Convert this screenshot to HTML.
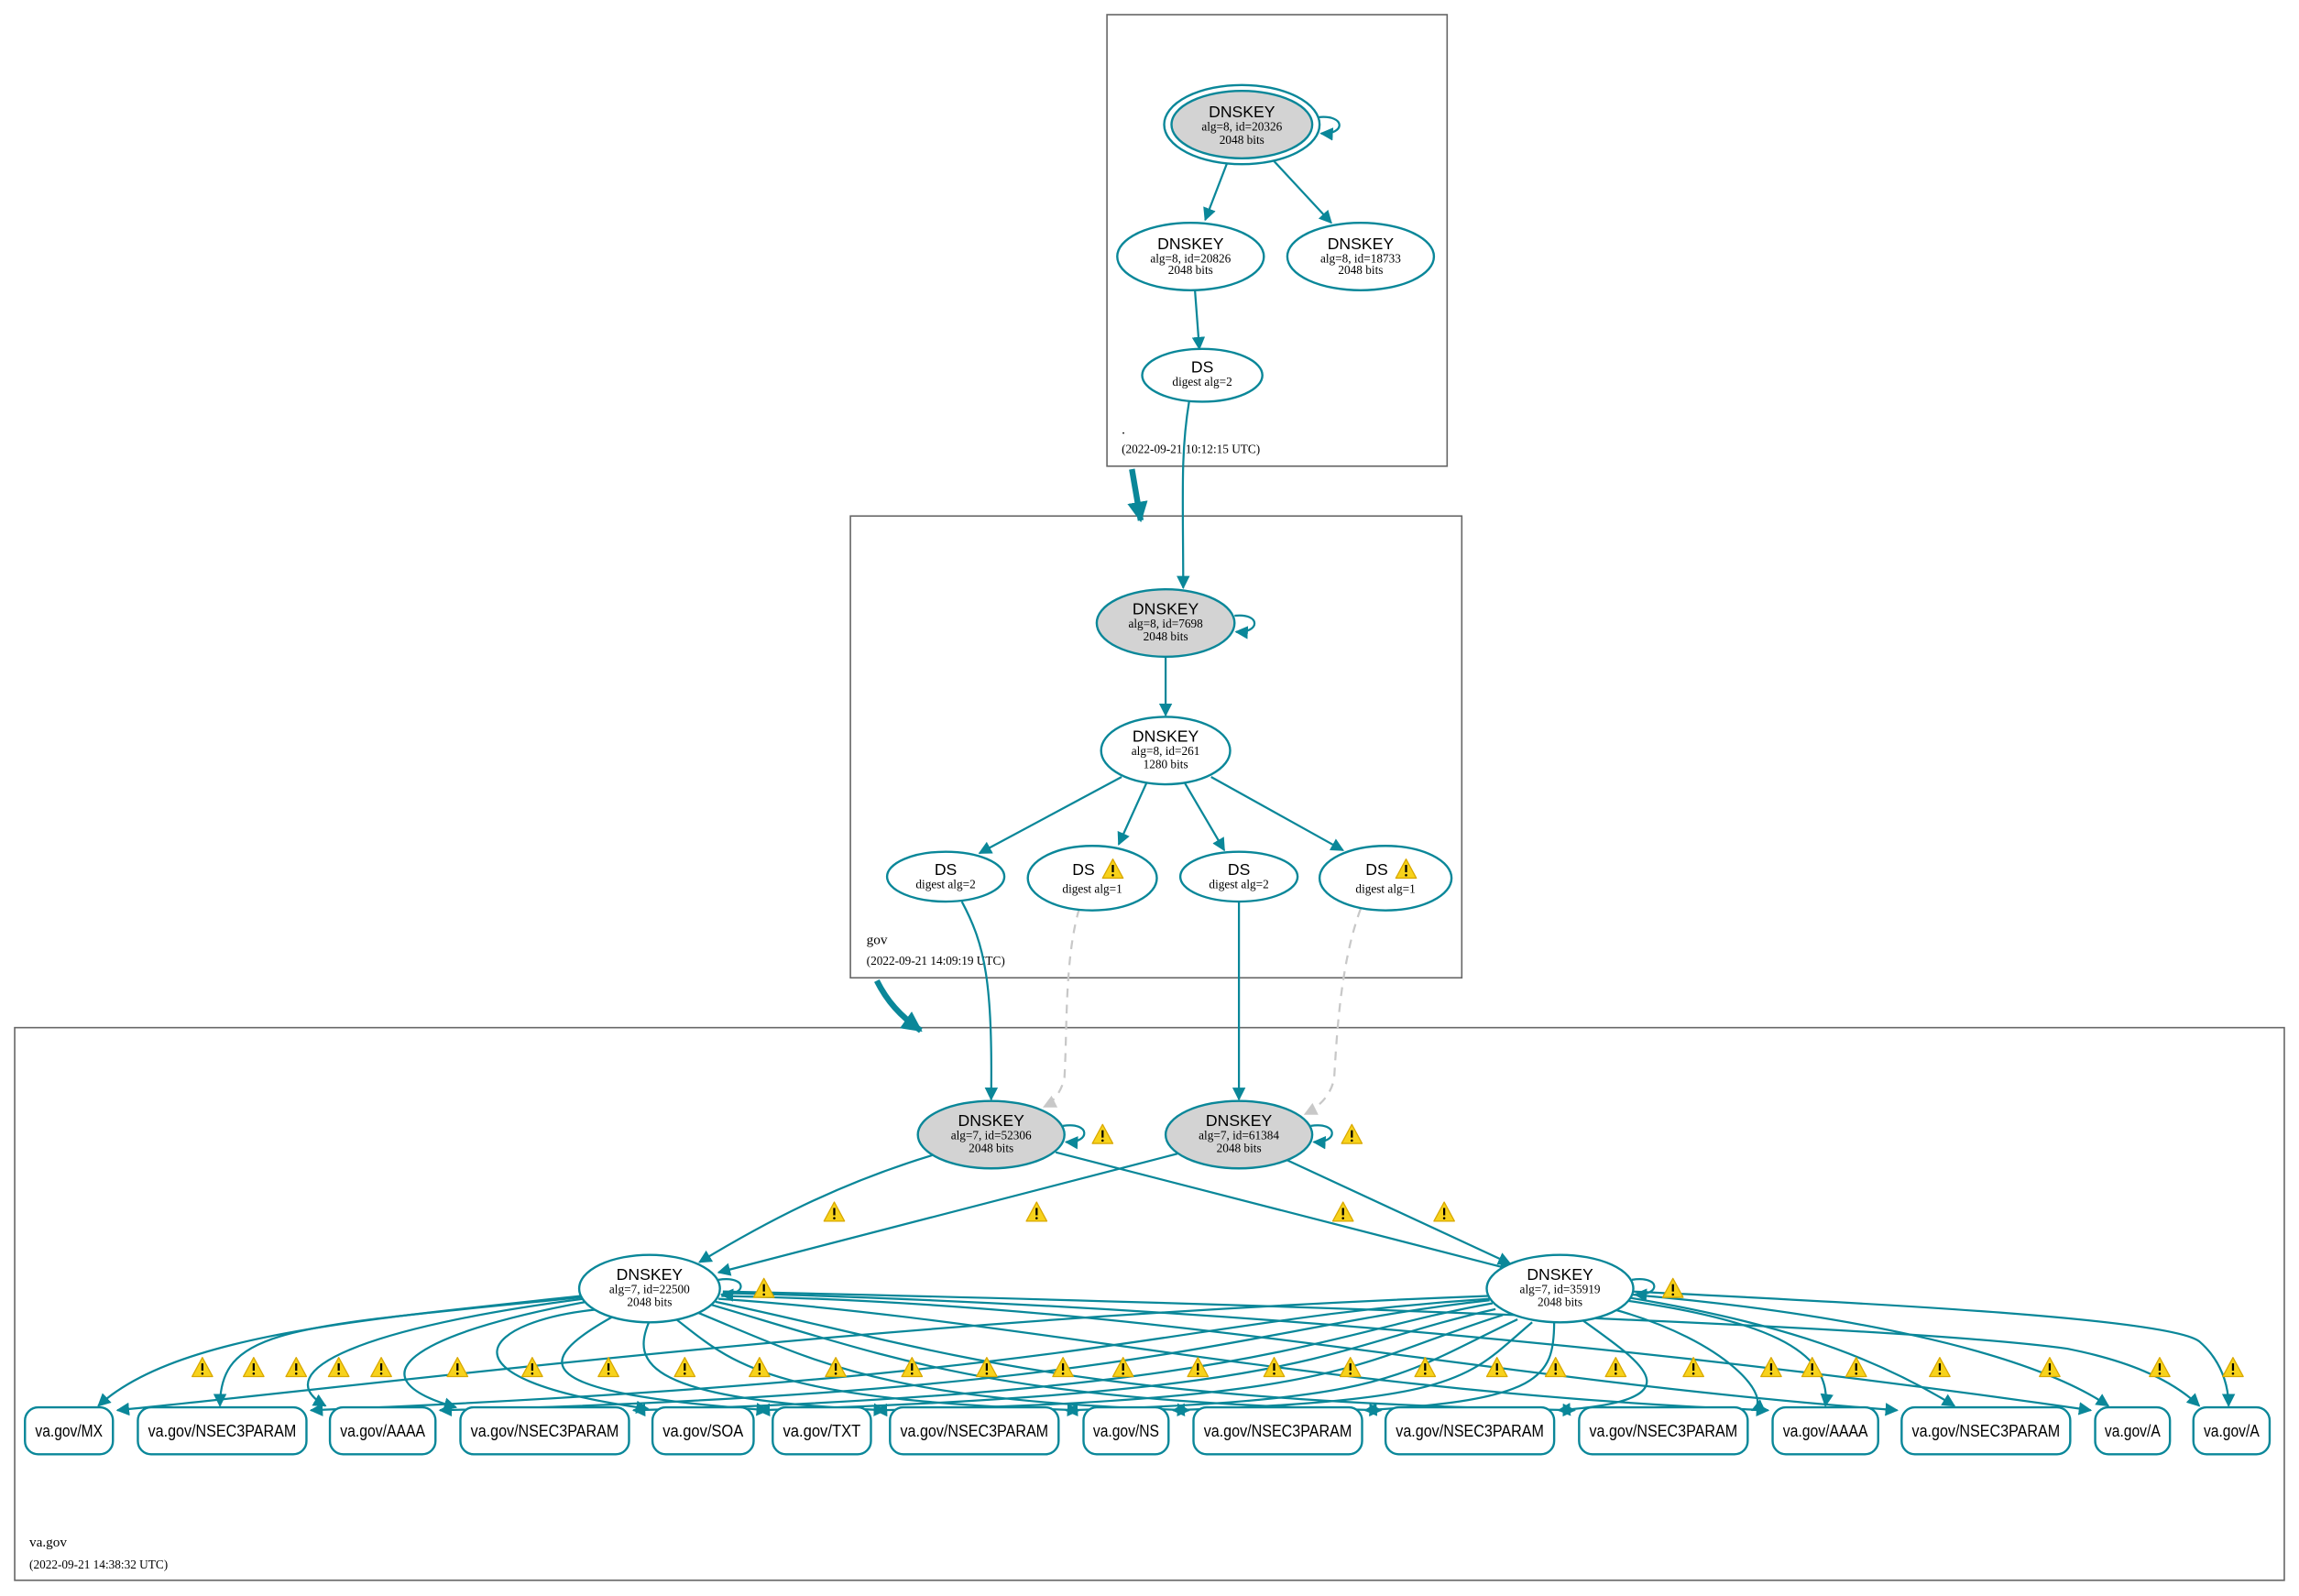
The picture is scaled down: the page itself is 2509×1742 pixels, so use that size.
<!DOCTYPE html>
<html><head><meta charset="utf-8"><style>
html,body{margin:0;padding:0;background:#fff;}
svg{display:block;}
.s{font-family:"Liberation Sans",sans-serif;font-size:11px;fill:#000;}
.t{font-family:"Liberation Sans",sans-serif;font-size:11.5px;fill:#000;}
.r{font-family:"Liberation Serif",serif;font-size:8.3px;fill:#000;}
.c{font-family:"Liberation Serif",serif;font-size:9.5px;fill:#000;}
.e{fill:none;stroke:#0a8799;stroke-width:1.4;}
.n{fill:#fff;stroke:#0a8799;stroke-width:1.5;}
.g{fill:#d3d3d3;stroke:#0a8799;stroke-width:1.5;}
.b{fill:#fff;stroke:#0a8799;stroke-width:1.5;}
.d{fill:none;stroke:#c8c8c8;stroke-width:1.4;stroke-dasharray:6,5;}
</style></head><body>
<svg width="2509" height="1742" viewBox="0 0 1568 1088.7" xmlns="http://www.w3.org/2000/svg">
<defs>
<marker id="a" viewBox="0 0 10 10" refX="9" refY="5" markerWidth="9" markerHeight="9" markerUnits="userSpaceOnUse" orient="auto"><path d="M0,0 L10,5 L0,10 z" fill="#0a8799"/></marker>
<marker id="ag" viewBox="0 0 10 10" refX="9" refY="5" markerWidth="9" markerHeight="9" markerUnits="userSpaceOnUse" orient="auto"><path d="M0,0 L10,5 L0,10 z" fill="#c8c8c8"/></marker>
<marker id="at" viewBox="0 0 10 10" refX="9" refY="5" markerWidth="14" markerHeight="14" markerUnits="userSpaceOnUse" orient="auto"><path d="M0,0 L10,5 L0,10 z" fill="#0a8799"/></marker>
<g id="w"><path d="M0,-7 L7,6 L-7,6 Z" fill="#f7d21b" stroke="#d9a800" stroke-width="0.8" stroke-linejoin="round"/><path d="M0,-3 L0,2" stroke="#000" stroke-width="1.4"/><circle cx="0" cy="4" r="0.8" fill="#000"/></g>
</defs>

<rect x="755" y="10" width="232" height="308" fill="none" stroke="#666" stroke-width="1"/>
<rect x="580" y="352" width="417" height="315" fill="none" stroke="#666" stroke-width="1"/>
<rect x="10" y="701" width="1548" height="377" fill="none" stroke="#666" stroke-width="1"/>

<text class="c" x="765" y="296">.</text>
<text class="r" x="765" y="309">(2022-09-21 10:12:15 UTC)</text>
<text class="c" x="591" y="644">gov</text>
<text class="r" x="591" y="658">(2022-09-21 14:09:19 UTC)</text>
<text class="c" x="20" y="1055">va.gov</text>
<text class="r" x="20" y="1070">(2022-09-21 14:38:32 UTC)</text>

<path d="M772,320 L778,355" stroke="#0a8799" stroke-width="4" fill="none" marker-end="url(#at)"/>
<path d="M598,669 C605,683 614,693 628,703" stroke="#0a8799" stroke-width="4" fill="none" marker-end="url(#at)"/>

<path class="e" d="M899,80 C918,78 918,92 901,91" marker-end="url(#a)"/>
<path class="e" d="M837,111 L822,150" marker-end="url(#a)"/>
<path class="e" d="M869,110 L908,152" marker-end="url(#a)"/>
<path class="e" d="M815,198 L818,238" marker-end="url(#a)"/>
<path class="e" d="M811,274 C805,310 807,340 807,401" marker-end="url(#a)"/>

<path class="e" d="M842,420 C860,418 860,432 843,431" marker-end="url(#a)"/>
<path class="e" d="M795,448 L795,488" marker-end="url(#a)"/>
<path class="e" d="M765,530 L668,582" marker-end="url(#a)"/>
<path class="e" d="M782,534 L763,576" marker-end="url(#a)"/>
<path class="e" d="M808,534 L835,580" marker-end="url(#a)"/>
<path class="e" d="M826,530 L916,580" marker-end="url(#a)"/>
<path class="e" d="M656,615 C672,645 677,670 676,750" marker-end="url(#a)"/>
<path class="d" d="M736,620 C726,655 728,700 726,735 C724,745 718,752 712,755" marker-end="url(#ag)"/>
<path class="e" d="M845,615 L845,750" marker-end="url(#a)"/>
<path class="d" d="M928,620 C915,655 912,700 910,735 C908,748 898,756 890,760" marker-end="url(#ag)"/>

<path class="e" d="M725,768 C744,765 744,780 727,779" marker-end="url(#a)"/>
<path class="e" d="M894,768 C913,765 913,780 896,779" marker-end="url(#a)"/>
<path class="e" d="M636,788 C570,808 520,835 477,861" marker-end="url(#a)"/>
<path class="e" d="M720,786 L1031,866" marker-end="url(#a)"/>
<path class="e" d="M803,787 L490,868" marker-end="url(#a)"/>
<path class="e" d="M877,791 L1030,862" marker-end="url(#a)"/>
<path class="e" d="M490,873 C510,870 510,884 492,883" marker-end="url(#a)"/>
<path class="e" d="M1113,873 C1133,870 1133,884 1115,883" marker-end="url(#a)"/>

<g class="e" marker-end="url(#a)">
<path d="M396,884 C250,900 120,910 67,959"/>
<path d="M396,885 C200,905 150,905 150,959"/>
<path d="M398,886 C250,905 180,935 222,959"/>
<path d="M400,888 C280,910 240,940 311,960"/>
<path d="M410,893 C330,900 290,940 442,961"/>
<path d="M420,897 C360,930 360,950 524,962"/>
<path d="M443,901 C430,930 440,955 604,962"/>
<path d="M460,899 C500,930 520,955 736,962"/>
<path d="M475,895 C560,930 600,955 811,962"/>
<path d="M485,890 C620,930 680,955 942,962"/>
<path d="M488,888 C640,920 720,955 1074,962"/>
<path d="M490,886 C700,900 900,950 1206,962"/>
<path d="M492,884 C800,890 1000,940 1294,962"/>
<path d="M493,882 C800,890 1100,915 1426,962"/>
<path d="M493,881 C900,890 1300,905 1410,920 C1450,928 1480,940 1500,959"/>
</g>
<g class="e" marker-end="url(#a)">
<path d="M1015,884 C600,900 300,940 80,962"/>
<path d="M1016,886 C800,900 750,940 212,962"/>
<path d="M1016,887 C850,905 780,950 300,962"/>
<path d="M1018,889 C900,910 850,950 432,962"/>
<path d="M1020,893 C900,920 900,950 517,962"/>
<path d="M1025,897 C920,930 920,955 597,962"/>
<path d="M1035,900 C950,940 950,955 727,962"/>
<path d="M1045,902 C1000,940 1000,955 800,962"/>
<path d="M1060,902 C1060,940 1050,955 931,962"/>
<path d="M1080,901 C1120,930 1160,955 1063,962"/>
<path d="M1100,893 C1180,915 1210,955 1195,962"/>
<path d="M1108,887 C1200,900 1250,920 1245,959"/>
<path d="M1110,885 C1200,900 1270,920 1333,959"/>
<path d="M1112,883 C1250,895 1380,920 1438,959"/>
<path d="M1113,881 C1300,890 1480,900 1500,915 C1515,928 1520,945 1520,959"/>
</g>

<ellipse class="n" cx="847" cy="85" rx="53" ry="27"/>
<ellipse class="g" cx="847" cy="85" rx="48" ry="23"/>
<text class="s" x="847" y="80" text-anchor="middle">DNSKEY</text>
<text class="r" x="847" y="89" text-anchor="middle">alg=8, id=20326</text>
<text class="r" x="847" y="98" text-anchor="middle">2048 bits</text>
<ellipse class="n" cx="812" cy="175" rx="50" ry="23"/>
<text class="s" x="812" y="170" text-anchor="middle">DNSKEY</text>
<text class="r" x="812" y="179" text-anchor="middle">alg=8, id=20826</text>
<text class="r" x="812" y="187" text-anchor="middle">2048 bits</text>
<ellipse class="n" cx="928" cy="175" rx="50" ry="23"/>
<text class="s" x="928" y="170" text-anchor="middle">DNSKEY</text>
<text class="r" x="928" y="179" text-anchor="middle">alg=8, id=18733</text>
<text class="r" x="928" y="187" text-anchor="middle">2048 bits</text>
<ellipse class="n" cx="820" cy="256" rx="41" ry="18"/>
<text class="s" x="820" y="254" text-anchor="middle">DS</text>
<text class="r" x="820" y="263" text-anchor="middle">digest alg=2</text>

<ellipse class="g" cx="795" cy="425" rx="47" ry="23"/>
<text class="s" x="795" y="419" text-anchor="middle">DNSKEY</text>
<text class="r" x="795" y="428" text-anchor="middle">alg=8, id=7698</text>
<text class="r" x="795" y="437" text-anchor="middle">2048 bits</text>
<ellipse class="n" cx="795" cy="512" rx="44" ry="23"/>
<text class="s" x="795" y="506" text-anchor="middle">DNSKEY</text>
<text class="r" x="795" y="515" text-anchor="middle">alg=8, id=261</text>
<text class="r" x="795" y="524" text-anchor="middle">1280 bits</text>
<ellipse class="n" cx="645" cy="598" rx="40" ry="17"/>
<text class="s" x="645" y="597" text-anchor="middle">DS</text>
<text class="r" x="645" y="606" text-anchor="middle">digest alg=2</text>
<ellipse class="n" cx="745" cy="599" rx="44" ry="22"/>
<text class="s" x="739" y="597" text-anchor="middle">DS</text>
<use href="#w" x="759" y="593"/>
<text class="r" x="745" y="609" text-anchor="middle">digest alg=1</text>
<ellipse class="n" cx="845" cy="598" rx="40" ry="17"/>
<text class="s" x="845" y="597" text-anchor="middle">DS</text>
<text class="r" x="845" y="606" text-anchor="middle">digest alg=2</text>
<ellipse class="n" cx="945" cy="599" rx="45" ry="22"/>
<text class="s" x="939" y="597" text-anchor="middle">DS</text>
<use href="#w" x="959" y="593"/>
<text class="r" x="945" y="609" text-anchor="middle">digest alg=1</text>

<ellipse class="g" cx="676" cy="774" rx="50" ry="23"/>
<text class="s" x="676" y="768" text-anchor="middle">DNSKEY</text>
<text class="r" x="676" y="777" text-anchor="middle">alg=7, id=52306</text>
<text class="r" x="676" y="786" text-anchor="middle">2048 bits</text>
<ellipse class="g" cx="845" cy="774" rx="50" ry="23"/>
<text class="s" x="845" y="768" text-anchor="middle">DNSKEY</text>
<text class="r" x="845" y="777" text-anchor="middle">alg=7, id=61384</text>
<text class="r" x="845" y="786" text-anchor="middle">2048 bits</text>
<ellipse class="n" cx="443" cy="879" rx="48" ry="23"/>
<text class="s" x="443" y="873" text-anchor="middle">DNSKEY</text>
<text class="r" x="443" y="882" text-anchor="middle">alg=7, id=22500</text>
<text class="r" x="443" y="891" text-anchor="middle">2048 bits</text>
<ellipse class="n" cx="1064" cy="879" rx="50" ry="23"/>
<text class="s" x="1064" y="873" text-anchor="middle">DNSKEY</text>
<text class="r" x="1064" y="882" text-anchor="middle">alg=7, id=35919</text>
<text class="r" x="1064" y="891" text-anchor="middle">2048 bits</text>

<use href="#w" x="752" y="774"/><use href="#w" x="922" y="774"/>
<use href="#w" x="569" y="827"/><use href="#w" x="707" y="827"/><use href="#w" x="916" y="827"/><use href="#w" x="985" y="827"/>
<use href="#w" x="521" y="879"/><use href="#w" x="1141" y="879"/>
<g>
<use href="#w" x="138" y="933"/><use href="#w" x="173" y="933"/><use href="#w" x="202" y="933"/><use href="#w" x="231" y="933"/><use href="#w" x="260" y="933"/>
<use href="#w" x="312" y="933"/><use href="#w" x="363" y="933"/><use href="#w" x="415" y="933"/><use href="#w" x="467" y="933"/><use href="#w" x="518" y="933"/>
<use href="#w" x="570" y="933"/><use href="#w" x="622" y="933"/><use href="#w" x="673" y="933"/><use href="#w" x="725" y="933"/><use href="#w" x="766" y="933"/>
<use href="#w" x="817" y="933"/><use href="#w" x="869" y="933"/><use href="#w" x="921" y="933"/><use href="#w" x="972" y="933"/><use href="#w" x="1021" y="933"/>
<use href="#w" x="1061" y="933"/><use href="#w" x="1102" y="933"/><use href="#w" x="1155" y="933"/><use href="#w" x="1208" y="933"/><use href="#w" x="1236" y="933"/>
<use href="#w" x="1266" y="933"/><use href="#w" x="1323" y="933"/><use href="#w" x="1398" y="933"/><use href="#w" x="1473" y="933"/><use href="#w" x="1523" y="933"/>
</g>

<g>
<rect class="b" x="17" y="960" width="60" height="32" rx="9"/><text class="t" x="47" y="980" text-anchor="middle" textLength="46" lengthAdjust="spacingAndGlyphs">va.gov/MX</text>
<rect class="b" x="94" y="960" width="115" height="32" rx="9"/><text class="t" x="151.5" y="980" text-anchor="middle" textLength="101" lengthAdjust="spacingAndGlyphs">va.gov/NSEC3PARAM</text>
<rect class="b" x="225" y="960" width="72" height="32" rx="9"/><text class="t" x="261" y="980" text-anchor="middle" textLength="58" lengthAdjust="spacingAndGlyphs">va.gov/AAAA</text>
<rect class="b" x="314" y="960" width="115" height="32" rx="9"/><text class="t" x="371.5" y="980" text-anchor="middle" textLength="101" lengthAdjust="spacingAndGlyphs">va.gov/NSEC3PARAM</text>
<rect class="b" x="445" y="960" width="69" height="32" rx="9"/><text class="t" x="479.5" y="980" text-anchor="middle" textLength="55" lengthAdjust="spacingAndGlyphs">va.gov/SOA</text>
<rect class="b" x="527" y="960" width="67" height="32" rx="9"/><text class="t" x="560.5" y="980" text-anchor="middle" textLength="53" lengthAdjust="spacingAndGlyphs">va.gov/TXT</text>
<rect class="b" x="607" y="960" width="115" height="32" rx="9"/><text class="t" x="664.5" y="980" text-anchor="middle" textLength="101" lengthAdjust="spacingAndGlyphs">va.gov/NSEC3PARAM</text>
<rect class="b" x="739" y="960" width="58" height="32" rx="9"/><text class="t" x="768" y="980" text-anchor="middle" textLength="45" lengthAdjust="spacingAndGlyphs">va.gov/NS</text>
<rect class="b" x="814" y="960" width="115" height="32" rx="9"/><text class="t" x="871.5" y="980" text-anchor="middle" textLength="101" lengthAdjust="spacingAndGlyphs">va.gov/NSEC3PARAM</text>
<rect class="b" x="945" y="960" width="115" height="32" rx="9"/><text class="t" x="1002.5" y="980" text-anchor="middle" textLength="101" lengthAdjust="spacingAndGlyphs">va.gov/NSEC3PARAM</text>
<rect class="b" x="1077" y="960" width="115" height="32" rx="9"/><text class="t" x="1134.5" y="980" text-anchor="middle" textLength="101" lengthAdjust="spacingAndGlyphs">va.gov/NSEC3PARAM</text>
<rect class="b" x="1209" y="960" width="72" height="32" rx="9"/><text class="t" x="1245" y="980" text-anchor="middle" textLength="58" lengthAdjust="spacingAndGlyphs">va.gov/AAAA</text>
<rect class="b" x="1297" y="960" width="115" height="32" rx="9"/><text class="t" x="1354.5" y="980" text-anchor="middle" textLength="101" lengthAdjust="spacingAndGlyphs">va.gov/NSEC3PARAM</text>
<rect class="b" x="1429" y="960" width="51" height="32" rx="9"/><text class="t" x="1454.5" y="980" text-anchor="middle" textLength="38" lengthAdjust="spacingAndGlyphs">va.gov/A</text>
<rect class="b" x="1496" y="960" width="52" height="32" rx="9"/><text class="t" x="1522" y="980" text-anchor="middle" textLength="38" lengthAdjust="spacingAndGlyphs">va.gov/A</text>
</g>
</svg>
</body></html>
